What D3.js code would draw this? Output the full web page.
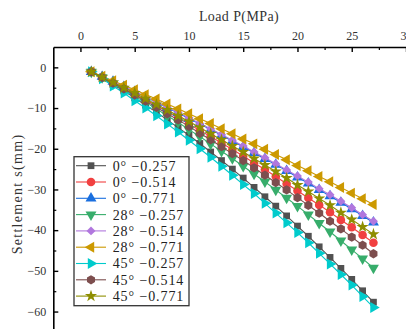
<!DOCTYPE html>
<html>
<head>
<meta charset="utf-8">
<script src="https://cdn.jsdelivr.net/npm/d3@7"></script>
<style>
  html, body { margin: 0; padding: 0; background: #fff; }
  svg { display: block; font-family: "Liberation Serif", "DejaVu Serif", serif; }
</style>
</head>
<body>
<svg id="chart" width="406" height="329"></svg>
<script>
// load steps (MPa)
const loads = d3.range(1, 28);

const seriesNames = [
  "0° −0.257", "0° −0.514", "0° −0.771",
  "28° −0.257", "28° −0.514", "28° −0.771",
  "45° −0.257", "45° −0.514", "45° −0.771"
];

// settlement (mm)
const s0_257 = [-1.1,-2.6,-4.2,-5.8,-7.5,-9.3,-11.0,-12.9,-14.8,-16.7,-18.7,-20.8,-22.9,-25.0,-27.2,-29.5,-31.8,-34.1,-36.5,-39.0,-41.5,-44.1,-46.7,-49.4,-52.1,-54.9,-57.7];
const s0_514 = [-1.1,-2.4,-3.8,-5.2,-6.6,-8.0,-9.4,-10.9,-12.4,-13.9,-15.5,-17.0,-18.6,-20.2,-21.8,-23.5,-25.1,-26.8,-28.6,-30.3,-32.1,-33.8,-35.6,-37.5,-39.3,-41.2,-43.1];
const s0_771 = [-1.1,-2.3,-3.5,-4.8,-6.0,-7.3,-8.6,-9.9,-11.2,-12.6,-13.9,-15.3,-16.7,-18.1,-19.5,-21.0,-22.5,-23.9,-25.4,-27.0,-28.5,-30.1,-31.6,-33.2,-34.8,-36.5,-38.1];
const s28_257 = [-1.1,-2.5,-4.0,-5.5,-7.1,-8.6,-10.2,-11.9,-13.5,-15.3,-17.0,-18.8,-20.6,-22.4,-24.3,-26.2,-28.1,-30.1,-32.1,-34.1,-36.2,-38.3,-40.4,-42.6,-44.8,-47.0,-49.3];
const s28_514 = [-1.1,-2.3,-3.5,-4.7,-5.9,-7.2,-8.5,-9.8,-11.1,-12.4,-13.8,-15.1,-16.5,-17.9,-19.3,-20.8,-22.2,-23.7,-25.2,-26.7,-28.2,-29.8,-31.3,-32.9,-34.5,-36.2,-37.8];
const s28_771 = [-1.1,-2.2,-3.3,-4.4,-5.5,-6.7,-7.8,-9.0,-10.2,-11.4,-12.6,-13.8,-15.1,-16.3,-17.6,-18.8,-20.1,-21.4,-22.7,-24.1,-25.4,-26.8,-28.1,-29.5,-30.9,-32.3,-33.7];
const s45_257 = [-1.1,-2.8,-4.6,-6.3,-8.2,-10.0,-11.9,-13.9,-15.9,-17.9,-20.0,-22.1,-24.3,-26.5,-28.8,-31.0,-33.4,-35.8,-38.2,-40.6,-43.1,-45.7,-48.3,-50.9,-53.5,-56.3,-59.0];
const s45_514 = [-1.1,-2.5,-3.9,-5.3,-6.8,-8.3,-9.8,-11.4,-12.9,-14.5,-16.2,-17.8,-19.5,-21.2,-22.9,-24.7,-26.5,-28.3,-30.1,-32.0,-33.9,-35.8,-37.8,-39.7,-41.7,-43.7,-45.8];
const s45_771 = [-1.1,-2.4,-3.7,-5.0,-6.3,-7.7,-9.1,-10.5,-11.9,-13.3,-14.8,-16.3,-17.8,-19.3,-20.8,-22.4,-24.0,-25.6,-27.2,-28.9,-30.5,-32.2,-33.9,-35.7,-37.4,-39.2,-41.0];

const seriesValues = [s0_257, s0_514, s0_771, s28_257, s28_514, s28_771, s45_257, s45_514, s45_771];

const xTicks = [0, 5, 10, 15, 20, 25, 30];
const xMinor = [2.5, 7.5, 12.5, 17.5, 22.5, 27.5];
const yTicks = [0, -10, -20, -30, -40, -50, -60];
const yMinor = [-5, -15, -25, -35, -45, -55, -65];

const colors = ["#515151", "#F14040", "#1A6FDF", "#37AD6B", "#B177DE", "#CC9900", "#00CBCC", "#7D4E4E", "#8E8E00"];

const hexagon = {
  draw(ctx, size) {
    const r = Math.sqrt(size / (1.5 * Math.sqrt(3)));
    for (let i = 0; i < 6; i++) {
      const a = Math.PI / 6 + i * Math.PI / 3;
      i ? ctx.lineTo(r * Math.cos(a), r * Math.sin(a)) : ctx.moveTo(r * Math.cos(a), r * Math.sin(a));
    }
    ctx.closePath();
  }
};

// symbol type, area, rotation
const markers = [
  [d3.symbolSquare, 46, 0],
  [d3.symbolCircle, 58, 0],
  [d3.symbolTriangle, 52, 0],
  [d3.symbolTriangle, 52, 180],
  [d3.symbolSquare, 40, 45],
  [d3.symbolTriangle, 52, -90],
  [d3.symbolTriangle, 52, 90],
  [hexagon, 56, 0],
  [d3.symbolStar, 46, 0]
];

const svg = d3.select("#chart");

const x = d3.scaleLinear().domain([-2.5, 30]).range([53.3, 406]);
const y = d3.scaleLinear().domain([5, -65]).range([47, 331.9]);

// axes
svg.append("g")
    .attr("transform", "translate(0,47)")
    .call(d3.axisTop(x).tickValues(xMinor).tickSize(-3).tickSizeOuter(0).tickFormat(""))
    .call(g => g.select(".domain").remove())
    .call(g => g.selectAll("line").attr("stroke", "#000").attr("stroke-width", 1.2));

svg.append("g")
    .attr("transform", "translate(0,47)")
    .call(d3.axisTop(x).tickValues(xTicks).tickSize(-5).tickSizeOuter(0).tickPadding(7))
    .call(g => g.select(".domain").attr("stroke-width", 1.6))
    .call(g => g.selectAll("line").attr("stroke-width", 1.4))
    .call(g => g.selectAll("text").attr("font-size", 12).attr("fill", "#333")
      .attr("font-family", "Liberation Serif, serif"));

svg.append("g")
    .attr("transform", "translate(53.3,0)")
    .call(d3.axisLeft(y).tickValues(yMinor).tickSize(-3).tickSizeOuter(0).tickFormat(""))
    .call(g => g.select(".domain").remove())
    .call(g => g.selectAll("line").attr("stroke", "#000").attr("stroke-width", 1.2));

svg.append("g")
    .attr("transform", "translate(53.3,0)")
    .call(d3.axisLeft(y).tickValues(yTicks).tickSize(-5).tickSizeOuter(0).tickPadding(7))
    .call(g => g.select(".domain").attr("stroke-width", 1.6))
    .call(g => g.selectAll("line").attr("stroke-width", 1.4))
    .call(g => g.selectAll("text").attr("font-size", 12).attr("fill", "#333")
      .attr("font-family", "Liberation Serif, serif"));

// titles
svg.append("text")
    .attr("x", 239).attr("y", 21)
    .attr("text-anchor", "middle")
    .attr("font-size", 14).attr("letter-spacing", 0.4).attr("fill", "#333")
    .text("Load P(MPa)");

svg.append("text")
    .attr("transform", "translate(22,194) rotate(-90)")
    .attr("text-anchor", "middle")
    .attr("font-size", 14).attr("letter-spacing", 1.3).attr("fill", "#333")
    .text("Settlement s(mm)");

// series
const line = d3.line().x((d, i) => x(loads[i])).y(d => y(d));
const symbolPath = k => d3.symbol(markers[k][0], markers[k][1])();

seriesValues.forEach((vals, k) => {
  const g = svg.append("g");
  g.append("path")
      .attr("d", line(vals))
      .attr("fill", "none")
      .attr("stroke", colors[k])
      .attr("stroke-width", 1.1);
  g.selectAll("path.pt")
    .data(vals)
    .join("path")
      .attr("class", "pt")
      .attr("d", symbolPath(k))
      .attr("transform", (d, i) => `translate(${x(loads[i])},${y(d)}) rotate(${markers[k][2]})`)
      .attr("fill", colors[k]);
});

// legend
const legend = svg.append("g");
legend.append("rect")
    .attr("x", 74).attr("y", 156.7).attr("width", 115).attr("height", 149)
    .attr("fill", "#fff").attr("stroke", "#333").attr("stroke-width", 1.3);

const rows = legend.selectAll("g.row")
  .data(seriesNames)
  .join("g")
    .attr("class", "row")
    .attr("transform", (d, i) => `translate(0,${165.7 + i * 16.3})`);

rows.append("line")
    .attr("x1", 76).attr("x2", 106).attr("y1", 0).attr("y2", 0)
    .attr("stroke", (d, i) => colors[i]).attr("stroke-width", 1.1);

rows.append("path")
    .attr("d", (d, i) => symbolPath(i))
    .attr("transform", (d, i) => `translate(91,0) rotate(${markers[i][2]})`)
    .attr("fill", (d, i) => colors[i]);

rows.append("text")
    .attr("x", 112.7).attr("y", 0).attr("dy", "0.35em")
    .attr("font-size", 14).attr("letter-spacing", 0.9).attr("fill", "#222")
    .text(d => d);
</script>
</body>
</html>
